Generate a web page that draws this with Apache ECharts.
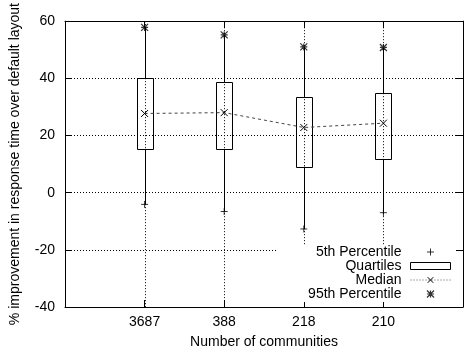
<!DOCTYPE html>
<html>
<head>
<meta charset="utf-8">
<script src="https://cdn.jsdelivr.net/npm/echarts@6/dist/echarts.min.js"></script>
<style>
  html, body { margin: 0; padding: 0; background: #fff; }
  #chart { width: 466px; height: 354px; }
</style>
</head>
<body>
<div id="chart"></div>
<script>
// Number of communities (one box per setting)
const categories = ['3687', '388', '218', '210'];
// Percentile statistics, % improvement in response time
const p5 = [-4.1, -6.6, -12.7, -7.0];
const q1 = [15.1, 15.1, 9.1, 11.8];
const median = [27.7, 28.0, 22.8, 24.3];
const q3 = [40.0, 38.6, 33.6, 34.8];
const p95 = [57.8, 55.2, 51.0, 50.8];
const yTicks = [-40, -20, 0, 20, 40, 60];

const FONT = "'Liberation Sans', Arial, Helvetica, sans-serif";
const plusPath = 'path://M0,4L8,4M4,0L4,8';
const crossPath = 'path://M0,0L8,8M8,0L0,8';
const starPath = 'path://M0,0L8,8M8,0L0,8M4,0L4,8M0,4L8,4';

const xPos = categories.map((c, i) => i + 1);
const boxData = categories.map((c, i) => [xPos[i], p5[i], q1[i], q3[i], p95[i]]);
const medianData = categories.map((c, i) => [xPos[i], median[i]]);
const p5Data = categories.map((c, i) => [xPos[i], p5[i]]);
const p95Data = categories.map((c, i) => [xPos[i], p95[i]]);

const DOTS = [1, 2];
const dotted = { color: '#000', width: 1, type: DOTS };
const textStyle = { color: '#000', fontFamily: FONT, fontSize: 14 };

const chart = echarts.init(document.getElementById('chart'), null, { renderer: 'canvas' });

// snap a coordinate to the pixel centre so 1px strokes stay sharp
const crisp = v => Math.round(v - 0.0001) + 0.5;

chart.setOption({
  animation: false,
  backgroundColor: '#fff',
  grid: { left: 62, top: 16, width: 405, height: 291, containLabel: false },
  xAxis: [
    {
      type: 'value', min: 0, max: 5, interval: 1, position: 'bottom',
      name: 'Number of communities', nameLocation: 'middle', nameGap: 28,
      nameTextStyle: textStyle,
      axisLine: { show: true, onZero: false, lineStyle: { color: '#000', width: 1 } },
      axisTick: { show: true, inside: true, length: 7, lineStyle: { color: '#000' } },
      axisLabel: Object.assign({ margin: 8, formatter: v => categories[v - 1] || '' }, textStyle),
      // vertical grid lines are drawn by the box series at the same pixel as the whiskers
      splitLine: { show: false }
    },
    {
      type: 'value', min: 0, max: 5, interval: 1, position: 'top',
      axisLine: { show: true, onZero: false, lineStyle: { color: '#000', width: 1 } },
      axisTick: { show: true, inside: true, length: 7, lineStyle: { color: '#000' } },
      axisLabel: { show: false },
      splitLine: { show: false }
    }
  ],
  yAxis: [
    {
      type: 'value', min: yTicks[0], max: yTicks[yTicks.length - 1], interval: 20,
      name: '% improvement in response time over default layout',
      nameLocation: 'middle', nameGap: 43, nameTextStyle: textStyle,
      axisLine: { show: true, onZero: false, lineStyle: { color: '#000', width: 1 } },
      axisTick: { show: true, inside: true, length: 7, lineStyle: { color: '#000' } },
      axisLabel: Object.assign({ margin: 10 }, textStyle),
      splitLine: { show: true, lineStyle: dotted }
    },
    {
      type: 'value', min: yTicks[0], max: yTicks[yTicks.length - 1], interval: 20, position: 'right',
      axisLine: { show: true, onZero: false, lineStyle: { color: '#000', width: 1 } },
      axisTick: { show: true, inside: true, length: 7, lineStyle: { color: '#000' } },
      axisLabel: { show: false },
      splitLine: { show: false }
    }
  ],
  legend: {
    orient: 'vertical', align: 'right',
    right: 10, top: 245,
    padding: [0, 5, 1, 32],
    itemGap: 0, itemWidth: 40, itemHeight: 7,
    backgroundColor: '#fff',
    textStyle: Object.assign({ lineHeight: 14, padding: [0, 4, 0, 0] }, textStyle),
    data: [
      { name: '5th Percentile', icon: plusPath, itemStyle: { color: 'transparent', borderColor: '#000', borderWidth: 1 } },
      { name: 'Quartiles', icon: 'rect', itemStyle: { color: 'transparent', borderColor: '#000', borderWidth: 1 } },
      { name: 'Median', lineStyle: { color: '#555', width: 1, type: [1, 2] }, itemStyle: { color: 'transparent', borderColor: '#000', borderWidth: 1 } },
      { name: '95th Percentile', icon: starPath, itemStyle: { color: 'transparent', borderColor: '#000', borderWidth: 1.2 } }
    ]
  },
  series: [
    {
      name: 'Quartiles',
      type: 'custom',
      data: boxData,
      encode: { x: 0, y: [1, 2, 3, 4] },
      itemStyle: { color: 'transparent', borderColor: '#000', borderWidth: 1 },
      z: 3,
      renderItem: function (params, api) {
        const x = api.value(0);
        const low = api.coord([x, api.value(1)]);
        const lo = api.coord([x, api.value(2)]);
        const hi = api.coord([x, api.value(3)]);
        const high = api.coord([x, api.value(4)]);
        const cs = params.coordSys;
        const cx = crisp(lo[0]);
        const halfW = 8;
        const stroke = { stroke: '#000', lineWidth: 1, fill: null };
        return {
          type: 'group',
          children: [
            // dotted vertical grid line through the category
            { type: 'line', shape: { x1: cx, y1: cs.y, x2: cx, y2: cs.y + cs.height }, style: { stroke: '#000', lineWidth: 1, lineDash: DOTS } },
            { type: 'line', shape: { x1: cx, y1: high[1], x2: cx, y2: hi[1] }, style: stroke },
            { type: 'line', shape: { x1: cx, y1: lo[1], x2: cx, y2: low[1] }, style: stroke },
            {
              type: 'rect',
              shape: { x: cx - halfW, y: crisp(hi[1]), width: halfW * 2, height: Math.round(lo[1] - hi[1]) },
              style: { stroke: '#000', lineWidth: 1, fill: 'transparent' }
            }
          ]
        };
      }
    },
    {
      name: '5th Percentile',
      type: 'scatter',
      data: p5Data,
      symbol: plusPath, symbolSize: 7,
      itemStyle: { color: 'transparent', borderColor: '#000', borderWidth: 1 },
      z: 4
    },
    {
      name: 'Median',
      type: 'line',
      data: medianData,
      symbol: crossPath, symbolSize: 7, showSymbol: true,
      itemStyle: { color: 'transparent', borderColor: '#000', borderWidth: 1 },
      lineStyle: { color: '#444', width: 1, type: [3, 3] },
      z: 4
    },
    {
      name: '95th Percentile',
      type: 'scatter',
      data: p95Data,
      symbol: starPath, symbolSize: 7,
      itemStyle: { color: 'transparent', borderColor: '#000', borderWidth: 1.2 },
      z: 4
    }
  ]
});
</script>
</body>
</html>
